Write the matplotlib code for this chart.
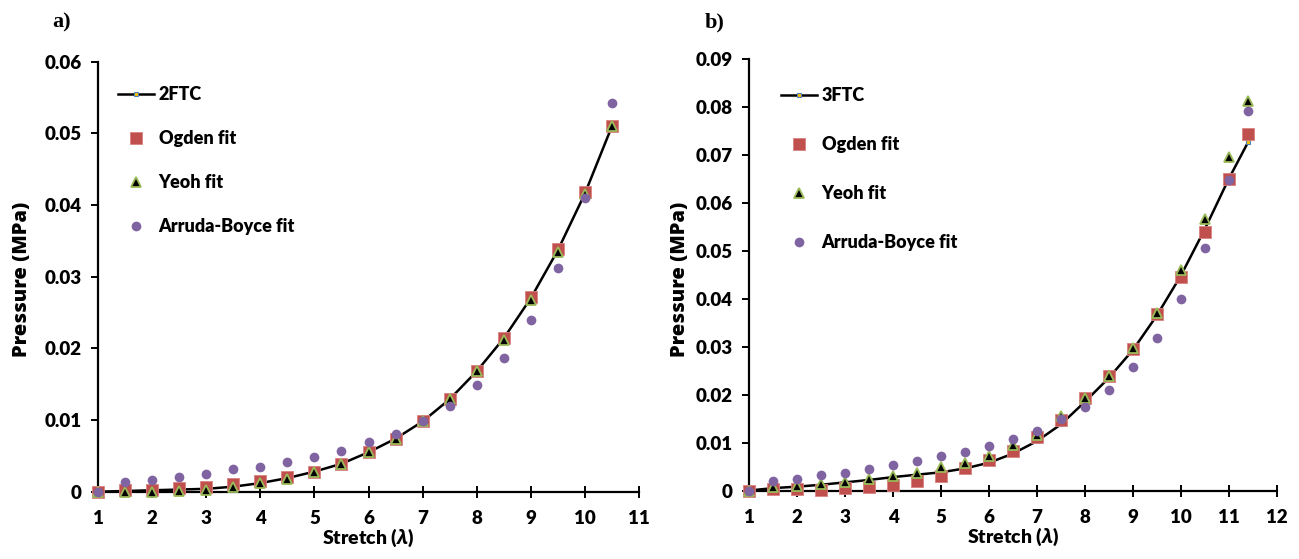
import matplotlib
matplotlib.use('Agg')
import matplotlib.pyplot as plt

# ---------------- data ----------------
stretch_a = [1.0, 1.5, 2.0, 2.5, 3.0, 3.5, 4.0, 4.5, 5.0, 5.5, 6.0, 6.5, 7.0, 7.5, 8.0, 8.5, 9.0, 9.5, 10.0, 10.5]
exp_2ftc = [0, 0.0001, 0.0002, 0.0003, 0.0004, 0.0007, 0.0012, 0.0019, 0.0028, 0.0039, 0.0055, 0.0074, 0.0098, 0.0129, 0.0168, 0.0214, 0.0270, 0.0337, 0.0416, 0.0510]
ogden_a = [0, 0.0002, 0.0003, 0.0005, 0.0007, 0.0011, 0.0015, 0.0020, 0.0027, 0.0039, 0.0055, 0.0074, 0.0099, 0.0130, 0.0169, 0.0215, 0.0272, 0.0338, 0.0418, 0.0510]
yeoh_a = [0, 0, 0, 0.0001, 0.0002, 0.0006, 0.0012, 0.0018, 0.0027, 0.0039, 0.0055, 0.0074, 0.0098, 0.0129, 0.0168, 0.0212, 0.0268, 0.0335, 0.0416, 0.0510]
ab_a = [0, 0.0013, 0.0017, 0.0021, 0.0025, 0.0031, 0.0035, 0.0041, 0.0048, 0.0057, 0.0069, 0.0081, 0.0098, 0.0119, 0.0149, 0.0187, 0.0240, 0.0312, 0.0410, 0.0542]

stretch_b = [1.0, 1.5, 2.0, 2.5, 3.0, 3.5, 4.0, 4.5, 5.0, 5.5, 6.0, 6.5, 7.0, 7.5, 8.0, 8.5, 9.0, 9.5, 10.0, 10.5, 11.0, 11.4]
exp_3ftc = [0, 0.0005, 0.0008, 0.0012, 0.0017, 0.0022, 0.0028, 0.0033, 0.0038, 0.0046, 0.0058, 0.0077, 0.0103, 0.0138, 0.0185, 0.0235, 0.0293, 0.0365, 0.0448, 0.0545, 0.0650, 0.0726]
ogden_b = [0, 0.0003, 0.0003, 0.0002, 0.0005, 0.0008, 0.0012, 0.0020, 0.0030, 0.0046, 0.0063, 0.0083, 0.0111, 0.0148, 0.0192, 0.0238, 0.0296, 0.0368, 0.0446, 0.0540, 0.0649, 0.0744]
yeoh_b = [0, 0.0008, 0.0009, 0.0013, 0.0018, 0.0023, 0.0030, 0.0036, 0.0048, 0.0058, 0.0073, 0.0094, 0.0116, 0.0156, 0.0192, 0.0238, 0.0298, 0.0370, 0.0460, 0.0567, 0.0696, 0.0812]
ab_b = [0, 0.0020, 0.0025, 0.0032, 0.0037, 0.0044, 0.0053, 0.0062, 0.0071, 0.0081, 0.0092, 0.0108, 0.0124, 0.0149, 0.0175, 0.0210, 0.0257, 0.0319, 0.0399, 0.0506, 0.0648, 0.0792]

xticks_a = [1, 2, 3, 4, 5, 6, 7, 8, 9, 10, 11]
yticks_a = [0, 0.01, 0.02, 0.03, 0.04, 0.05, 0.06]
ylabels_a = ['0', '0.01', '0.02', '0.03', '0.04', '0.05', '0.06']
xticks_b = [1, 2, 3, 4, 5, 6, 7, 8, 9, 10, 11, 12]
yticks_b = [0, 0.01, 0.02, 0.03, 0.04, 0.05, 0.06, 0.07, 0.08, 0.09]
ylabels_b = ['0', '0.01', '0.02', '0.03', '0.04', '0.05', '0.06', '0.07', '0.08', '0.09']

# ---------------- style ----------------
WEIGHT = 'heavy'
plt.rcParams['font.family'] = ['Lato', 'DejaVu Sans']
plt.rcParams['font.weight'] = WEIGHT
plt.rcParams['mathtext.fontset'] = 'custom'
plt.rcParams['mathtext.it'] = 'Open Sans:italic:bold'
plt.rcParams['mathtext.rm'] = 'Lato:bold'

RED = '#C0504D'
GREEN = '#9BBB59'
PURPLE = '#8064A2'
BLUE = '#4F81BD'
YELLOW = '#F9C000'

W, H = 1299, 559
fig = plt.figure(figsize=(W / 100, H / 100), dpi=100)


def make_panel(rect, x, exp, ogden, yeoh, ab, exp_label, xticks, yticks, ylabels,
               xlim, ylim, leg_anchor, leg_spacing, tag, tag_pos, ylabel_x):
    ax = fig.add_axes(rect)
    ax.plot(x, exp, '-', color='black', lw=1.8, marker='s', ms=3.5,
            mfc=YELLOW, mec=BLUE, mew=0.8, label=exp_label, zorder=3, clip_on=False)
    ax.plot(x, ogden, 's', color=RED, ms=8.5, mec='#D9827F', mew=0.6,
            label='Ogden fit', zorder=4, clip_on=False)
    ax.plot(x, yeoh, '^', color='black', ms=7.5, mec=GREEN, mew=1.3,
            label='Yeoh fit', zorder=5, clip_on=False)
    ax.plot(x, ab, 'o', color=PURPLE, ms=7, mec=PURPLE, mew=0,
            label='Arruda-Boyce fit', zorder=6, clip_on=False)

    ax.set_xlim(*xlim)
    ax.set_ylim(*ylim)
    ax.set_xticks(xticks)
    ax.set_xticklabels([str(t) for t in xticks])
    ax.set_yticks(yticks)
    ax.set_yticklabels(ylabels)
    for s in ['top', 'right']:
        ax.spines[s].set_visible(False)
    for s in ['left', 'bottom']:
        ax.spines[s].set_linewidth(1.6)
        ax.spines[s].set_color('black')
    ax.tick_params(axis='both', labelsize=13.5, width=1.4, length=5, color='black')
    ax.tick_params(axis='x', direction='inout', length=8, pad=9)
    ax.tick_params(axis='y', direction='out', pad=7)
    for lab in ax.get_xticklabels() + ax.get_yticklabels():
        lab.set_fontweight(WEIGHT)

    ax.set_xlabel('Stretch ($\\lambda$)', fontsize=14, fontweight=WEIGHT, labelpad=0)
    ax.set_ylabel('Pressure (MPa)', fontsize=14.5, fontweight='heavy',
                  family=['Open Sans', 'DejaVu Sans'])
    ax.yaxis.set_label_coords(ylabel_x, 0.5, transform=fig.transFigure)
    ax.yaxis.label.set_transform(fig.transFigure)

    leg = ax.legend(loc='upper left', bbox_to_anchor=leg_anchor,
                    bbox_transform=fig.transFigure, frameon=False,
                    fontsize=13, handlelength=2.0, handletextpad=0.25,
                    labelspacing=leg_spacing, borderpad=0, borderaxespad=0)
    for t in leg.get_texts():
        t.set_fontweight(WEIGHT)

    fig.text(tag_pos[0], tag_pos[1], tag, family='Liberation Serif', fontsize=16,
             fontweight='bold', ha='center', va='center')
    return ax


make_panel([98 / W, 1 - 491.7 / H, (639 - 98) / W, (491.7 - 61.7) / H],
           stretch_a, exp_2ftc, ogden_a, yeoh_a, ab_a, '2FTC',
           xticks_a, yticks_a, ylabels_a, (1, 11), (0, 0.06),
           (118 / W, 1 - 86 / H), 1.5, 'a)', (62 / W, 1 - 22 / H), 32 / W)

make_panel([749.3 / W, 1 - 490.5 / H, (1276.7 - 749.3) / W, (490.5 - 59) / H],
           stretch_b, exp_3ftc, ogden_b, yeoh_b, ab_b, '3FTC',
           xticks_b, yticks_b, ylabels_b, (1, 12), (0, 0.09),
           (781 / W, 1 - 87 / H), 1.78, 'b)', (715 / W, 1 - 22 / H), 690 / W)

fig.savefig('out.png', dpi=100)
